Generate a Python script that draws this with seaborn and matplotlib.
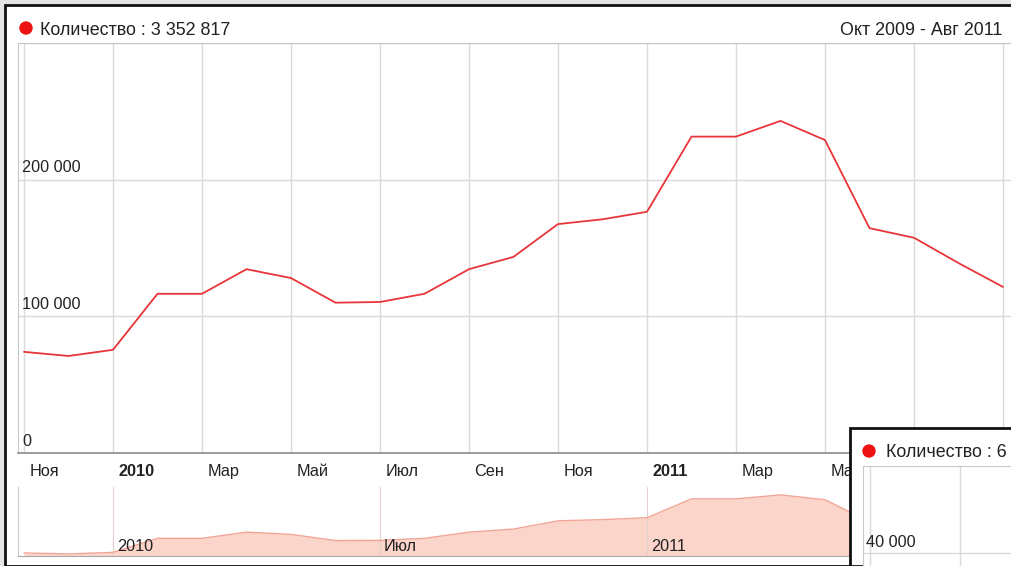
import pandas as pd
import matplotlib.pyplot as plt
import matplotlib.transforms as mtransforms
from matplotlib.patches import Rectangle, Circle
import seaborn as sns

# Monthly counts, Oct 2009 - Aug 2011
months = ['Окт 2009', 'Ноя 2009', 'Дек 2009', 'Янв 2010', 'Фев 2010', 'Мар 2010',
          'Апр 2010', 'Май 2010', 'Июн 2010', 'Июл 2010', 'Авг 2010', 'Сен 2010',
          'Окт 2010', 'Ноя 2010', 'Дек 2010', 'Янв 2011', 'Фев 2011', 'Мар 2011',
          'Апр 2011', 'Май 2011', 'Июн 2011', 'Июл 2011', 'Авг 2011']
values = [74000, 71000, 75500, 116500, 116500, 134500, 128000, 110000, 110500,
          116500, 134500, 143500, 167500, 171000, 176500, 231500, 231500, 243000,
          229000, 164500, 157500, 139000, 121500]

# gridlines every two months; labels only where not hidden by the corner chart
tick_pos = [0, 2, 4, 6, 8, 10, 12, 14, 16, 18, 20, 22]
label_pos = [0, 2, 4, 6, 8, 10, 12, 14, 16, 18]
tick_labels = ['Ноя', '2010', 'Мар', 'Май', 'Июл', 'Сен', 'Ноя', '2011', 'Мар', 'Май']
bold_labels = ['2010', '2011']
y_ticks = [0, 100000, 200000, 300000]
nav_pos = [2, 8, 14]
nav_labels = ['2010', 'Июл', '2011']
total_label = 'Количество : 3 352 817'
range_label = 'Окт 2009 - Авг 2011'
inset_label = 'Количество : 6'
inset_tick = 40000

df = pd.DataFrame({'month': range(len(values)), 'value': values})

sns.set_style('white')
plt.rcParams['font.family'] = ['Liberation Sans', 'DejaVu Sans']

W, H = 1011, 566
LINE = '#e8353a'
GRID = '#dadada'
FS = 11.7
FS_HEAD = 12.9

fig = plt.figure(figsize=(W / 100, H / 100), dpi=100)


def box(x0, y0, x1, y1):
    # pixel box (top-left origin) -> figure fraction rect
    return [x0 / W, 1 - y1 / H, (x1 - x0) / W, (y1 - y0) / H]


def fx(x):
    return x / W


def fy(y):
    return 1 - y / H


# outer screenshot background and frame
fig.add_artist(Rectangle((0, 0), 1, 1, transform=fig.transFigure, color='#e4e4e4', zorder=-5))
fig.add_artist(Rectangle((fx(5), 0), 1, fy(5), transform=fig.transFigure,
                         facecolor='white', edgecolor='#111111', lw=2, zorder=-4))

# header
fig.add_artist(Circle((26, H - 28), 6, transform=None, color='#ee1111', zorder=3))
fig.text(fx(40), fy(35), total_label, fontsize=FS_HEAD, color='#222222', va='baseline')
fig.text(fx(1002), fy(35), range_label, fontsize=FS_HEAD, color='#222222', va='baseline', ha='right')

x_lo = (18 - 24) / 44.5
x_hi = (1011 - 24) / 44.5

# main chart
ax = fig.add_axes(box(18, 43, 1011, 453))
sns.lineplot(data=df, x='month', y='value', color=LINE, lw=1.3, ax=ax, zorder=3)
ax.set_xlim(x_lo, x_hi)
ax.set_ylim(0, 300000)
ax.set_xticks(tick_pos)
ax.set_xticklabels([])
ax.set_yticks(y_ticks)
ax.set_yticklabels([])
ax.grid(True, color=GRID, lw=1)
ax.tick_params(axis='x', direction='out', length=24.5, color=GRID, width=1)
ax.tick_params(axis='y', length=0)
ax.set_xlabel('')
ax.set_ylabel('')
for side in ['left', 'top']:
    ax.spines[side].set_color('#c8c8c8')
ax.spines['bottom'].set_color('#8c8c8c')
ax.spines['bottom'].set_linewidth(1.2)
ax.spines['right'].set_visible(False)

ytr = mtransforms.offset_copy(ax.get_yaxis_transform(), fig=fig, x=4, y=7.5, units='dots')
for v in y_ticks[:-1]:
    ax.text(0, v, f'{v:,}'.replace(',', ' '), transform=ytr, fontsize=FS,
            color='#222222', va='baseline', ha='left')

xtr = mtransforms.offset_copy(ax.get_xaxis_transform(), fig=fig, x=5.5, y=-23, units='dots')
for p, lab in zip(label_pos, tick_labels):
    ax.text(p, 0, lab, transform=xtr, fontsize=FS, color='#222222', va='baseline',
            ha='left', fontweight='bold' if lab in bold_labels else 'normal', clip_on=False)

# navigator
nav = fig.add_axes(box(18, 487, 1011, 556))
nav.fill_between(df['month'], df['value'], 0, color='#fbd4ca', lw=0, zorder=1)
sns.lineplot(data=df, x='month', y='value', color='#f2a596', lw=1.0, ax=nav, zorder=2)
nav.set_xlim(x_lo, x_hi)
nav.set_ylim(65000, 266000)
nav.set_xticks([])
nav.set_yticks([])
nav.set_xlabel('')
nav.set_ylabel('')
for p in nav_pos:
    nav.axvline(p, color='#e6d0cc', lw=0.8, zorder=1.5)
ntr = mtransforms.offset_copy(nav.get_xaxis_transform(), fig=fig, x=4, y=5, units='dots')
for p, lab in zip(nav_pos, nav_labels):
    nav.text(p, 0, lab, transform=ntr, fontsize=FS, color='#222222', va='baseline', ha='left', zorder=4)
nav.spines['left'].set_color('#c8c8c8')
nav.spines['bottom'].set_color('#a8a8a8')
nav.spines['top'].set_visible(False)
nav.spines['right'].set_visible(False)

# overlapping second chart in the corner
fig.add_artist(Rectangle((fx(850), 0), 1, fy(428), transform=fig.transFigure,
                         facecolor='white', edgecolor='#111111', lw=2, zorder=5))
fig.add_artist(Circle((869, H - 451), 6, transform=None, color='#ee1111', zorder=7))
fig.text(fx(886), fy(457), inset_label, fontsize=FS_HEAD, color='#222222', va='baseline', zorder=7)

ins = fig.add_axes(box(863, 466, 1011, 566))
ins.set_zorder(6)
ins.set_xlim(-0.16, 3.13)
ins.set_ylim(35000, 73500)
ins.set_xticks([0, 2])
ins.set_yticks([inset_tick])
ins.set_xticklabels([])
ins.set_yticklabels([])
ins.tick_params(length=0)
ins.grid(True, color=GRID, lw=1)
for side in ['left', 'top']:
    ins.spines[side].set_color('#c8c8c8')
for side in ['right', 'bottom']:
    ins.spines[side].set_visible(False)
itr = mtransforms.offset_copy(ins.get_yaxis_transform(), fig=fig, x=3, y=6, units='dots')
ins.text(0, inset_tick, f'{inset_tick:,}'.replace(',', ' '), transform=itr, fontsize=FS,
         color='#222222', va='baseline', ha='left')

fig.savefig('out.png', dpi=100)
